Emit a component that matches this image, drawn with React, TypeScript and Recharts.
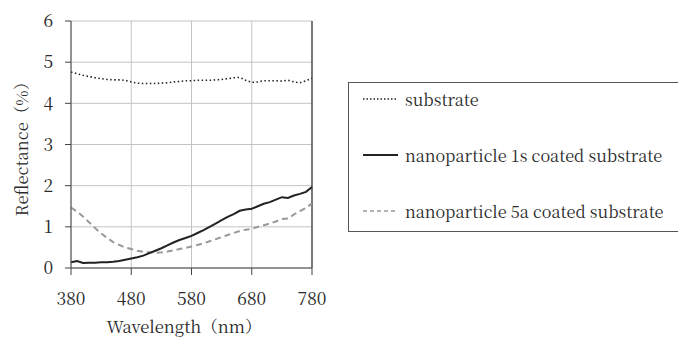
import React from 'react';
import { LineChart, Line, XAxis, YAxis, CartesianGrid, ReferenceLine, Legend } from 'recharts';

const wavelengths = [380, 390, 400, 410, 420, 430, 440, 450, 460, 470, 480, 490, 500, 510, 520, 530, 540, 550, 560, 570, 580, 590, 600, 610, 620, 630, 640, 650, 660, 670, 680, 690, 700, 710, 720, 730, 740, 750, 760, 770, 780];
const substrate = [4.76, 4.72, 4.68, 4.65, 4.62, 4.6, 4.58, 4.57, 4.57, 4.56, 4.52, 4.49, 4.48, 4.48, 4.48, 4.49, 4.5, 4.52, 4.53, 4.55, 4.55, 4.56, 4.56, 4.56, 4.57, 4.58, 4.6, 4.62, 4.63, 4.56, 4.51, 4.52, 4.55, 4.55, 4.55, 4.54, 4.56, 4.52, 4.5, 4.55, 4.61];
const coated1s = [0.14, 0.17, 0.12, 0.13, 0.13, 0.14, 0.14, 0.15, 0.17, 0.2, 0.23, 0.26, 0.3, 0.36, 0.42, 0.48, 0.55, 0.62, 0.68, 0.73, 0.78, 0.85, 0.92, 1.0, 1.08, 1.16, 1.24, 1.31, 1.39, 1.42, 1.44, 1.5, 1.56, 1.6, 1.66, 1.72, 1.7, 1.76, 1.8, 1.85, 1.97];
const coated5a = [1.47, 1.37, 1.25, 1.11, 0.97, 0.84, 0.73, 0.63, 0.56, 0.5, 0.46, 0.42, 0.39, 0.38, 0.37, 0.38, 0.4, 0.43, 0.46, 0.49, 0.52, 0.56, 0.6, 0.65, 0.7, 0.75, 0.8, 0.85, 0.9, 0.93, 0.95, 1.0, 1.04, 1.08, 1.13, 1.19, 1.2, 1.3, 1.38, 1.46, 1.57];
const xTicks = [380, 480, 580, 680, 780];
const yTicks = [0, 1, 2, 3, 4, 5, 6];
const seriesNames = ['substrate', 'nanoparticle 1s coated substrate', 'nanoparticle 5a coated substrate'];

const data = wavelengths.map((wl, i) => ({ wl, s: substrate[i], a: coated1s[i], b: coated5a[i] }));

const FONT = '"Noto Serif CJK JP", "Liberation Serif"';
const TEXT = '#2a2a2a';

const legendItems = [
  { name: seriesNames[0], stroke: '#222', width: 1.5, dash: '1.5 2' },
  { name: seriesNames[1], stroke: '#222', width: 2, dash: undefined },
  { name: seriesNames[2], stroke: '#999', width: 1.5, dash: '4 3' },
];

const LegendBox = () => (
  <div style={{ width: 340, height: 150, border: '1px solid #555', boxSizing: 'border-box', position: 'relative', background: '#fff' }}>
    {legendItems.map((it, i) => (
      <div key={it.name} style={{ position: 'absolute', left: 14, top: 4 + i * 56, height: 24, display: 'flex', alignItems: 'center' }}>
        <svg width={36} height={10} style={{ display: 'block' }}>
          <line x1={0} y1={5} x2={35} y2={5} stroke={it.stroke} strokeWidth={it.width} strokeDasharray={it.dash} />
        </svg>
        <span style={{ marginLeft: 6, fontFamily: FONT, fontSize: 16.3, color: TEXT, whiteSpace: 'nowrap' }}>{it.name}</span>
      </div>
    ))}
  </div>
);

export default function App() {
  return (
    <div style={{ position: 'absolute', left: 0, top: 0, width: 678, height: 345, background: '#fff' }}>
      <LineChart width={678} height={345} data={data} margin={{ top: 21, right: 366, left: 0, bottom: 20 }}>
        <CartesianGrid stroke="#c4c4c4" strokeWidth={1} />
        <XAxis
          dataKey="wl"
          type="number"
          domain={[380, 780]}
          ticks={xTicks}
          tickSize={7}
          tickMargin={18}
          height={57}
          stroke="#444"
          tick={{ fill: TEXT, fontFamily: FONT, fontSize: 17.5 }}
          label={{
            content: () => (
              <text x={184} y={333} textAnchor="middle" fontFamily={FONT} fontSize={16.6} fill={TEXT}>Wavelength（nm）</text>
            ),
          }}
        />
        <YAxis
          type="number"
          domain={[0, 6]}
          ticks={yTicks}
          width={71}
          tickSize={6}
          tickMargin={12}
          stroke="#444"
          tick={{ fill: TEXT, fontFamily: FONT, fontSize: 17.5 }}
          label={{
            content: () => (
              <text x={21} y={145} transform="rotate(-90 21 145)" textAnchor="middle" dominantBaseline="central" fontFamily={FONT} fontSize={16.6} fill={TEXT}>Reflectance（%）</text>
            ),
          }}
        />
        <ReferenceLine x={780} stroke="#333" strokeWidth={1.2} />
        <Line dataKey="s" name={seriesNames[0]} stroke="#222" strokeWidth={1.6} strokeDasharray="1.5 2.5" dot={false} isAnimationActive={false} />
        <Line dataKey="b" name={seriesNames[2]} stroke="#999" strokeWidth={2} strokeDasharray="6 4" dot={false} isAnimationActive={false} />
        <Line dataKey="a" name={seriesNames[1]} stroke="#222" strokeWidth={2} dot={false} isAnimationActive={false} />
        <Legend layout="vertical" align="center" verticalAlign="middle" content={() => <LegendBox />} wrapperStyle={{ left: 348, top: 82, width: 340, height: 150 }} />
      </LineChart>
    </div>
  );
}
